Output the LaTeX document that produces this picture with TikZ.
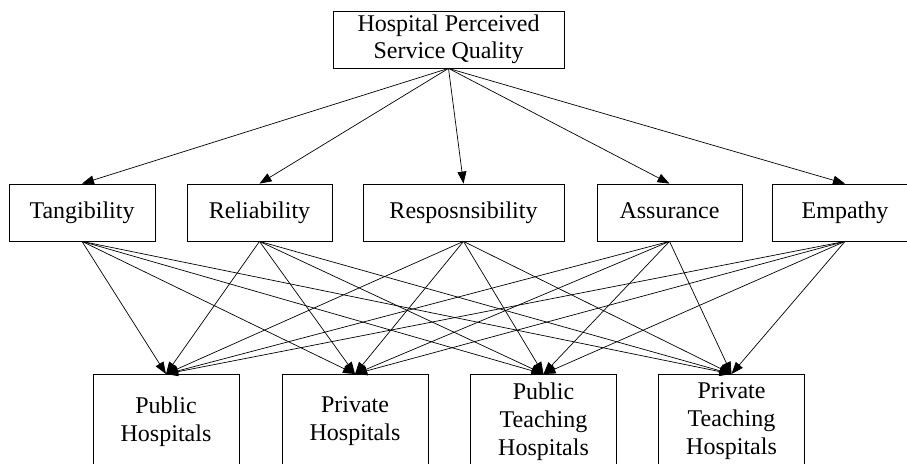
\documentclass[tikz,border=0pt]{standalone}
\usepackage{fontspec}
\setmainfont{Liberation Serif}
\usetikzlibrary{arrows.meta}

\begin{document}
\begin{tikzpicture}[x=1pt,y=-1pt,
  box/.style={draw,line width=0.8pt,align=center,inner sep=0pt,
    font=\fontsize{24}{28}\selectfont,minimum height=57pt},
  dim/.style={box,text height=16.5pt,text depth=5.3pt},
  leaf/.style={box,anchor=north,minimum width=146pt,minimum height=94pt},
  edge/.style={line width=0.7pt,-{Triangle[length=12pt,width=9pt]}}]
\useasboundingbox (0,0) rectangle (907,463);
\clip (0,0) rectangle (907,463);
% top
\node[box,minimum width=231pt,font=\fontsize{24}{27}\selectfont] (hpsq) at (448.5,39.5) {Hospital Perceived\\Service Quality};
% dimensions
\node[dim,minimum width=146pt] (tang) at (82,212.5) {Tangibility};
\node[dim,minimum width=145pt] (reli) at (259.5,212.5) {Reliability};
\node[dim,minimum width=201pt] (resp) at (463.5,212.5) {Resposnsibility};
\node[dim,minimum width=145pt] (assu) at (669.5,212.5) {Assurance};
\node[dim,minimum width=145pt] (empa) at (845,212.5) {Empathy};
% hospital types
\node[leaf] (pubh) at (166,374) {Public\\Hospitals};
\node[leaf] (prih) at (355,374) {Private\\Hospitals};
\node[leaf] (pubt) at (543.5,374) {Public\\Teaching\\Hospitals};
\node[leaf] (prit) at (731.5,374) {Private\\Teaching\\Hospitals};
\foreach \d in {tang,reli,resp,assu,empa}
  \draw[edge] (hpsq.south) -- (\d.north);
\foreach \d in {tang,reli,resp,assu,empa}
  \foreach \h in {pubh,prih,pubt,prit}
    \draw[edge] (\d.south) -- (\h.north);
\end{tikzpicture}
\end{document}
